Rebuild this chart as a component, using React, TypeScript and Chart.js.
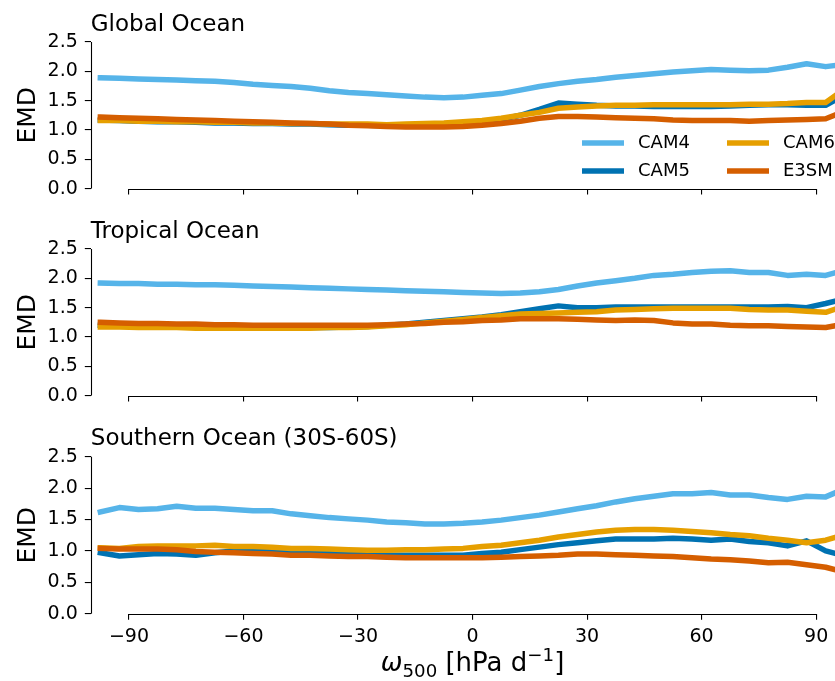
import React, { useEffect, useRef } from 'react';
import { Chart, registerables } from 'chart.js';

Chart.register(...registerables);

const FONT = '"DejaVu Sans", sans-serif';
const INK = '#000000';

const OMEGA_BINS = [-97.5, -92.5, -87.5, -82.5, -77.5, -72.5, -67.5, -62.5, -57.5, -52.5, -47.5, -42.5, -37.5, -32.5, -27.5, -22.5, -17.5, -12.5, -7.5, -2.5, 2.5, 7.5, 12.5, 17.5, 22.5, 27.5, 32.5, 37.5, 42.5, 47.5, 52.5, 57.5, 62.5, 67.5, 72.5, 77.5, 82.5, 87.5, 92.5, 97.5];
const X_TICKS = [-90, -60, -30, 0, 30, 60, 90];
const Y_TICKS = [0, 0.5, 1, 1.5, 2, 2.5];
const SERIES_NAMES = ['CAM4', 'CAM5', 'CAM6', 'E3SM'];
const SERIES_COLORS = ['#56B4E9', '#0072B2', '#E69F00', '#D55E00'];
const PANEL_TITLES = ['Global Ocean', 'Tropical Ocean', 'Southern Ocean (30S-60S)'];

const GLOBAL_CAM4 = [1.89, 1.88, 1.87, 1.86, 1.85, 1.84, 1.83, 1.81, 1.78, 1.76, 1.74, 1.71, 1.67, 1.64, 1.62, 1.60, 1.58, 1.56, 1.55, 1.56, 1.59, 1.62, 1.68, 1.74, 1.79, 1.83, 1.86, 1.90, 1.93, 1.96, 1.99, 2.01, 2.03, 2.02, 2.01, 2.02, 2.07, 2.13, 2.08, 2.12];
const GLOBAL_CAM5 = [1.17, 1.16, 1.15, 1.14, 1.14, 1.13, 1.12, 1.12, 1.11, 1.11, 1.10, 1.10, 1.09, 1.08, 1.08, 1.07, 1.07, 1.08, 1.09, 1.11, 1.14, 1.18, 1.25, 1.35, 1.46, 1.44, 1.42, 1.41, 1.41, 1.40, 1.40, 1.40, 1.40, 1.41, 1.42, 1.43, 1.43, 1.42, 1.42, 1.60];
const GLOBAL_CAM6 = [1.16, 1.16, 1.15, 1.15, 1.14, 1.14, 1.13, 1.13, 1.12, 1.12, 1.11, 1.11, 1.10, 1.10, 1.10, 1.09, 1.10, 1.11, 1.12, 1.14, 1.16, 1.20, 1.25, 1.30, 1.37, 1.39, 1.41, 1.42, 1.42, 1.43, 1.43, 1.43, 1.43, 1.43, 1.44, 1.44, 1.45, 1.47, 1.47, 1.70];
const GLOBAL_E3SM = [1.22, 1.21, 1.20, 1.19, 1.18, 1.17, 1.16, 1.15, 1.14, 1.13, 1.12, 1.11, 1.10, 1.08, 1.07, 1.06, 1.05, 1.05, 1.05, 1.06, 1.08, 1.11, 1.15, 1.20, 1.23, 1.23, 1.22, 1.21, 1.20, 1.19, 1.17, 1.16, 1.16, 1.16, 1.15, 1.16, 1.17, 1.18, 1.19, 1.32];

const TROPICAL_CAM4 = [1.92, 1.91, 1.91, 1.90, 1.90, 1.89, 1.89, 1.88, 1.87, 1.86, 1.85, 1.84, 1.83, 1.82, 1.81, 1.80, 1.79, 1.78, 1.77, 1.76, 1.75, 1.74, 1.75, 1.77, 1.81, 1.87, 1.92, 1.96, 2.00, 2.05, 2.07, 2.10, 2.12, 2.13, 2.10, 2.10, 2.05, 2.07, 2.05, 2.14];
const TROPICAL_CAM5 = [1.20, 1.19, 1.19, 1.18, 1.18, 1.17, 1.17, 1.16, 1.16, 1.16, 1.16, 1.16, 1.16, 1.17, 1.18, 1.20, 1.22, 1.25, 1.28, 1.31, 1.34, 1.38, 1.43, 1.48, 1.53, 1.50, 1.50, 1.51, 1.51, 1.51, 1.51, 1.51, 1.51, 1.51, 1.51, 1.51, 1.52, 1.50, 1.57, 1.65];
const TROPICAL_CAM6 = [1.17, 1.17, 1.16, 1.16, 1.16, 1.15, 1.15, 1.15, 1.15, 1.15, 1.15, 1.15, 1.16, 1.16, 1.17, 1.19, 1.21, 1.24, 1.27, 1.30, 1.33, 1.36, 1.39, 1.40, 1.41, 1.42, 1.43, 1.46, 1.47, 1.48, 1.49, 1.49, 1.49, 1.49, 1.47, 1.46, 1.46, 1.44, 1.42, 1.53];
const TROPICAL_E3SM = [1.25, 1.24, 1.23, 1.23, 1.22, 1.22, 1.21, 1.21, 1.20, 1.20, 1.20, 1.20, 1.20, 1.20, 1.20, 1.21, 1.22, 1.23, 1.25, 1.26, 1.28, 1.29, 1.31, 1.31, 1.31, 1.30, 1.29, 1.28, 1.29, 1.28, 1.24, 1.22, 1.22, 1.20, 1.19, 1.19, 1.18, 1.17, 1.16, 1.22];

const SOUTHERN_CAM4 = [1.62, 1.69, 1.66, 1.67, 1.71, 1.68, 1.68, 1.66, 1.64, 1.64, 1.59, 1.56, 1.53, 1.51, 1.49, 1.46, 1.45, 1.43, 1.43, 1.44, 1.46, 1.49, 1.53, 1.57, 1.62, 1.67, 1.72, 1.78, 1.83, 1.87, 1.91, 1.91, 1.93, 1.89, 1.89, 1.85, 1.82, 1.87, 1.86, 1.99];
const SOUTHERN_CAM5 = [0.97, 0.92, 0.94, 0.96, 0.95, 0.93, 0.97, 1.00, 1.00, 0.99, 0.98, 0.97, 0.96, 0.95, 0.94, 0.93, 0.93, 0.93, 0.93, 0.93, 0.96, 0.98, 1.02, 1.06, 1.10, 1.13, 1.16, 1.19, 1.19, 1.19, 1.20, 1.19, 1.17, 1.19, 1.15, 1.13, 1.08, 1.16, 1.00, 0.92];
const SOUTHERN_CAM6 = [1.05, 1.04, 1.07, 1.08, 1.08, 1.08, 1.09, 1.07, 1.07, 1.06, 1.04, 1.04, 1.03, 1.02, 1.01, 1.01, 1.02, 1.02, 1.03, 1.04, 1.07, 1.09, 1.13, 1.17, 1.22, 1.26, 1.30, 1.33, 1.34, 1.34, 1.33, 1.31, 1.29, 1.26, 1.24, 1.20, 1.17, 1.13, 1.17, 1.26];
const SOUTHERN_E3SM = [1.04, 1.03, 1.03, 1.03, 1.02, 0.99, 0.98, 0.97, 0.96, 0.95, 0.93, 0.93, 0.92, 0.91, 0.91, 0.90, 0.89, 0.89, 0.89, 0.89, 0.89, 0.90, 0.91, 0.92, 0.93, 0.95, 0.95, 0.94, 0.93, 0.92, 0.91, 0.89, 0.87, 0.86, 0.84, 0.81, 0.82, 0.78, 0.74, 0.66];

const CANVAS_W = 870;
const PLOT_LEFT = 90.8;
const PLOT_RIGHT = 854.3;
const LINE_W = 5.5;
const TICK_FONT = 19;

type PanelProps = {
  title: string;
  series: number[][];
  top: number;
  height: number;
  padTop: number;
  xAxisH: number;
  showXTickLabels: boolean;
  showLegend: boolean;
};

function Panel({ title, series, top, height, padTop, xAxisH, showXTickLabels, showLegend }: PanelProps) {
  const ref = useRef<HTMLCanvasElement>(null);

  useEffect(() => {
    const canvas = ref.current;
    if (!canvas) return;

    const decor = {
      id: 'decor',
      afterDraw(chart: any) {
        const { ctx, chartArea: a, scales } = chart;
        const xs = scales.x;
        ctx.save();
        ctx.strokeStyle = INK;
        ctx.lineWidth = 1.1;
        ctx.lineCap = 'butt';
        const lx = Math.round(a.left) + 0.5;
        ctx.beginPath();
        ctx.moveTo(lx, a.top);
        ctx.lineTo(lx, a.bottom);
        ctx.stroke();
        const by = Math.round(a.bottom) + 0.5;
        ctx.beginPath();
        ctx.moveTo(xs.getPixelForValue(X_TICKS[0]), by);
        ctx.lineTo(xs.getPixelForValue(X_TICKS[X_TICKS.length - 1]), by);
        ctx.stroke();

        ctx.fillStyle = INK;
        ctx.font = `23px ${FONT}`;
        ctx.textAlign = 'left';
        ctx.textBaseline = 'alphabetic';
        ctx.fillText(title, a.left, a.top - 11.5);

        ctx.save();
        ctx.translate(35, (a.top + a.bottom) / 2);
        ctx.rotate(-Math.PI / 2);
        ctx.font = `25px ${FONT}`;
        ctx.textAlign = 'center';
        ctx.fillText('EMD', 0, 0);
        ctx.restore();

        if (showLegend) {
          const colX = [582, 727];
          const rowY = [143, 171];
          ctx.font = `18px ${FONT}`;
          ctx.textBaseline = 'middle';
          ctx.textAlign = 'left';
          SERIES_NAMES.forEach((name, i) => {
            const cx = colX[Math.floor(i / 2)];
            const ry = rowY[i % 2];
            ctx.strokeStyle = SERIES_COLORS[i];
            ctx.lineWidth = LINE_W;
            ctx.beginPath();
            ctx.moveTo(cx, ry);
            ctx.lineTo(cx + 42, ry);
            ctx.stroke();
            ctx.fillStyle = INK;
            ctx.fillText(name, cx + 56, ry);
          });
        }
        ctx.restore();
      },
    };

    const chart = new Chart(canvas, {
      type: 'line',
      data: {
        datasets: series.map((vals, i) => ({
          label: SERIES_NAMES[i],
          data: vals.map((y, j) => ({ x: OMEGA_BINS[j], y })),
          borderColor: SERIES_COLORS[i],
          backgroundColor: SERIES_COLORS[i],
          borderWidth: LINE_W,
          pointRadius: 0,
          pointHoverRadius: 0,
          tension: 0,
          borderJoinStyle: 'round' as const,
          borderCapStyle: 'square' as const,
          order: 4 - i,
        })),
      },
      options: {
        responsive: false,
        animation: false,
        events: [],
        layout: { padding: { top: padTop, left: 0, right: CANVAS_W - PLOT_RIGHT, bottom: 0 } },
        plugins: {
          legend: { display: false },
          tooltip: { enabled: false },
          title: { display: false },
        },
        scales: {
          x: {
            type: 'linear',
            min: -100,
            max: 100,
            afterBuildTicks: (s: any) => {
              s.ticks = X_TICKS.map((v) => ({ value: v }));
            },
            afterFit: (s: any) => {
              s.height = xAxisH;
            },
            grid: { drawOnChartArea: false, drawTicks: true, tickLength: 6, color: INK, lineWidth: 1.1 },
            border: { display: false },
            ticks: {
              display: showXTickLabels,
              color: INK,
              font: { family: FONT, size: TICK_FONT },
              padding: 6,
              maxRotation: 0,
              autoSkip: false,
              callback: (v: any) => {
                const n = Number(v);
                return n < 0 ? '\u2212' + Math.abs(n) : String(n);
              },
            },
          },
          y: {
            type: 'linear',
            min: 0,
            max: 2.5,
            afterBuildTicks: (s: any) => {
              s.ticks = Y_TICKS.map((v) => ({ value: v }));
            },
            afterFit: (s: any) => {
              s.width = PLOT_LEFT;
            },
            grid: { drawOnChartArea: false, drawTicks: true, tickLength: 6, color: INK, lineWidth: 1.1 },
            border: { display: false },
            ticks: {
              color: INK,
              font: { family: FONT, size: TICK_FONT },
              padding: 7,
              callback: (v: any) => Number(v).toFixed(1),
            },
          },
        },
      },
      plugins: [decor],
    });

    return () => chart.destroy();
  }, [title, series, padTop, xAxisH, showXTickLabels, showLegend]);

  return (
    <canvas
      ref={ref}
      width={CANVAS_W}
      height={height}
      style={{ position: 'absolute', left: 0, top, width: CANVAS_W, height, display: 'block' }}
    />
  );
}

const GLOBAL_SERIES = [GLOBAL_CAM4, GLOBAL_CAM5, GLOBAL_CAM6, GLOBAL_E3SM];
const TROPICAL_SERIES = [TROPICAL_CAM4, TROPICAL_CAM5, TROPICAL_CAM6, TROPICAL_E3SM];
const SOUTHERN_SERIES = [SOUTHERN_CAM4, SOUTHERN_CAM5, SOUTHERN_CAM6, SOUTHERN_E3SM];

export default function App() {
  return (
    <div
      style={{
        position: 'fixed',
        left: 0,
        top: 0,
        width: 835,
        height: 681,
        overflow: 'hidden',
        background: '#ffffff',
      }}
    >
      <Panel title={PANEL_TITLES[0]} series={GLOBAL_SERIES} top={0} height={207} padTop={42} xAxisH={8} showXTickLabels={false} showLegend={true} />
      <Panel title={PANEL_TITLES[1]} series={TROPICAL_SERIES} top={207} height={207} padTop={42} xAxisH={8} showXTickLabels={false} showLegend={false} />
      <Panel title={PANEL_TITLES[2]} series={SOUTHERN_SERIES} top={414} height={267} padTop={42.7} xAxisH={67.3} showXTickLabels={true} showLegend={false} />
      <div
        style={{
          position: 'absolute',
          left: 272.5,
          width: 400,
          top: 647,
          textAlign: 'center',
          fontFamily: FONT,
          fontSize: 26,
          lineHeight: '30px',
          color: INK,
          whiteSpace: 'nowrap',
        }}
      >
        <span style={{ fontStyle: 'italic' }}>ω</span>
        <span style={{ fontSize: '0.7em', verticalAlign: '-0.35em', lineHeight: 0 }}>500</span>
        {' [hPa d'}
        <span style={{ fontSize: '0.7em', verticalAlign: '0.55em', lineHeight: 0 }}>−1</span>
        {']'}
      </div>
    </div>
  );
}
